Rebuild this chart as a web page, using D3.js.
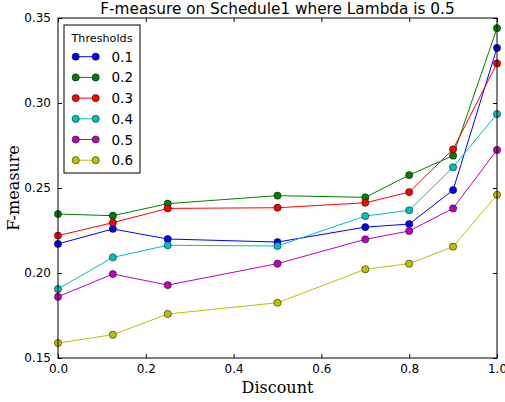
<!DOCTYPE html>
<html>
<head>
<meta charset="utf-8">
<script src="https://cdn.jsdelivr.net/npm/d3@7"></script>
<style>
  body { margin: 0; background: #fff; }
  svg { display: block; }
  .tick text { font-family: "DejaVu Sans", sans-serif; font-size: 12px; fill: #000; }
  .axis-label { font-family: "DejaVu Serif", serif; font-size: 16px; }
  .title { font-family: "DejaVu Sans", sans-serif; font-size: 15.3px; }
  .line { fill: none; stroke-width: 1; }
</style>
</head>
<body>
<div class="chart-container"></div>
<script>
var margin = {top: 18, right: 8, bottom: 44, left: 58};
var width = 505 - margin.left - margin.right;
var height = 402 - margin.top - margin.bottom;

var discounts = [0, 0.125, 0.25, 0.5, 0.7, 0.8, 0.9, 1.0];
var thresholds = ['0.1', '0.2', '0.3', '0.4', '0.5', '0.6'];
var colors = ['#0000ff', '#008000', '#ff0000', '#00bfbf', '#bf00bf', '#bfbf00'];

var t01 = [0.2171, 0.2259, 0.2200, 0.2182, 0.2270, 0.2288, 0.2488, 0.3324];
var t02 = [0.2347, 0.2337, 0.2408, 0.2455, 0.2445, 0.2576, 0.2690, 0.3440];
var t03 = [0.2220, 0.2296, 0.2380, 0.2384, 0.2413, 0.2476, 0.2728, 0.3233];
var t04 = [0.1906, 0.2092, 0.2163, 0.2159, 0.2335, 0.2369, 0.2622, 0.2935];
var t05 = [0.1860, 0.1994, 0.1929, 0.2055, 0.2198, 0.2247, 0.2380, 0.2724];
var t06 = [0.1588, 0.1637, 0.1759, 0.1825, 0.2022, 0.2055, 0.2155, 0.2460];
var series = [t01, t02, t03, t04, t05, t06];

var xTicks = [0, 0.2, 0.4, 0.6, 0.8, 1.0];
var yTicks = [0.15, 0.20, 0.25, 0.30, 0.35];

var x = d3.scaleLinear()
  .domain([0, 1])
  .range([margin.left, margin.left + width]);

var y = d3.scaleLinear()
  .domain([0.15, 0.35])
  .range([margin.top + height, margin.top]);

var svg = d3.select('.chart-container').append('svg')
  .attr('width', 505)
  .attr('height', 402);

// ticks point inward on all four sides
function styleAxis(g) {
  g.select('.domain').remove();
  g.selectAll('.tick line').attr('stroke', '#000');
}

svg.append('g')
  .attr('transform', `translate(0,${margin.top + height})`)
  .call(d3.axisBottom(x).tickValues(xTicks).tickFormat(d3.format('.1f')).tickSizeInner(-4).tickPadding(6))
  .call(styleAxis);
svg.append('g')
  .attr('transform', `translate(0,${margin.top})`)
  .call(d3.axisTop(x).tickValues(xTicks).tickFormat('').tickSizeInner(-4))
  .call(styleAxis);
svg.append('g')
  .attr('transform', `translate(${margin.left},0)`)
  .call(d3.axisLeft(y).tickValues(yTicks).tickFormat(d3.format('.2f')).tickSizeInner(-4).tickPadding(7))
  .call(styleAxis);
svg.append('g')
  .attr('transform', `translate(${margin.left + width},0)`)
  .call(d3.axisRight(y).tickValues(yTicks).tickFormat('').tickSizeInner(-4))
  .call(styleAxis);

var line = d3.line()
  .x((d, i) => x(discounts[i]))
  .y(d => y(d));

series.forEach(function(vals, k) {
  var g = svg.append('g');
  g.append('path')
    .datum(vals)
    .attr('class', 'line')
    .attr('stroke', colors[k])
    .attr('d', line);
  g.selectAll('circle')
    .data(vals)
    .enter().append('circle')
    .attr('cx', (d, i) => x(discounts[i]))
    .attr('cy', d => y(d))
    .attr('r', 3.6)
    .attr('fill', colors[k])
    .attr('stroke', '#000')
    .attr('stroke-width', 0.5);
});

// frame
svg.append('rect')
  .attr('x', margin.left)
  .attr('y', margin.top)
  .attr('width', width)
  .attr('height', height)
  .attr('fill', 'none')
  .attr('stroke', '#000')
  .attr('stroke-width', 1);

svg.append('text')
  .attr('class', 'title')
  .attr('x', margin.left + width / 2)
  .attr('y', 14)
  .attr('text-anchor', 'middle')
  .text('F-measure on Schedule1 where Lambda is 0.5');

svg.append('text')
  .attr('class', 'axis-label')
  .attr('x', margin.left + width / 2)
  .attr('y', 393)
  .attr('text-anchor', 'middle')
  .text('Discount');

svg.append('text')
  .attr('class', 'axis-label')
  .attr('text-anchor', 'middle')
  .attr('transform', `translate(19,${margin.top + height / 2}) rotate(-90)`)
  .text('F-measure');

/*
 * Legend
 */
var legend = svg.append('g')
  .attr('transform', 'translate(64,25)');
legend.append('rect')
  .attr('width', 76)
  .attr('height', 148)
  .attr('fill', '#fff')
  .attr('stroke', '#000')
  .attr('stroke-width', 1);
legend.append('text')
  .attr('x', 38)
  .attr('y', 16.5)
  .attr('text-anchor', 'middle')
  .style('font-family', '"DejaVu Sans", sans-serif')
  .style('font-size', '11.2px')
  .text('Thresholds');

thresholds.forEach(function(name, k) {
  var row = legend.append('g')
    .attr('transform', `translate(0,${31.7 + k * 20.7})`);
  row.append('line')
    .attr('x1', 11.7).attr('x2', 31.7)
    .attr('stroke', colors[k]);
  [11.7, 31.7].forEach(function(cx) {
    row.append('circle')
      .attr('cx', cx)
      .attr('r', 3.6)
      .attr('fill', colors[k])
      .attr('stroke', '#000')
      .attr('stroke-width', 0.5);
  });
  row.append('text')
    .attr('x', 47.5)
    .attr('y', 5)
    .style('font-family', '"DejaVu Sans", sans-serif')
    .style('font-size', '13.5px')
    .text(name);
});
</script>
</body>
</html>
